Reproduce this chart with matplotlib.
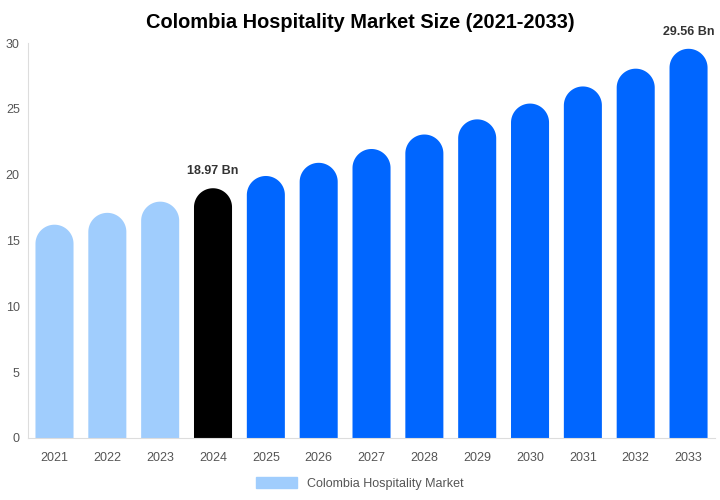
import numpy as np
import matplotlib
matplotlib.use('Agg')
import matplotlib.pyplot as plt
from matplotlib.patches import Patch

plt.rcParams['font.family'] = ['Liberation Sans', 'DejaVu Sans']

years = ['2021', '2022', '2023', '2024', '2025', '2026', '2027',
         '2028', '2029', '2030', '2031', '2032', '2033']
values = [16.2, 17.1, 17.95, 18.97, 19.9, 20.9, 21.95,
          23.05, 24.2, 25.4, 26.7, 28.05, 29.56]
labelled = {'2024': '18.97 Bn', '2033': '29.56 Bn'}

light = '#a0cdfd'
blue = '#0066ff'
colors = [light if int(y) < 2024 else ('#000000' if y == '2024' else blue) for y in years]

fig = plt.figure(figsize=(7.2, 5), dpi=100)
ax = fig.add_axes([0.039, 0.124, 0.954, 0.79])

x = np.arange(len(years))
width = 0.72
ax.set_xlim(-0.5, len(years) - 0.5)
ax.set_ylim(0, 30)

# cap height in data units so the top looks round in pixels
fig.canvas.draw()
px_per_x = ax.transData.transform((1, 0))[0] - ax.transData.transform((0, 0))[0]
px_per_y = ax.transData.transform((0, 1))[1] - ax.transData.transform((0, 0))[1]
cap_h = (width * px_per_x / 2) / px_per_y

# one outline per bar: straight sides, half-round top
t = np.linspace(0, np.pi, 60)
for xi, v, c in zip(x, values, colors):
    base = v - cap_h
    xs = np.concatenate([[xi + width / 2], xi + width / 2 * np.cos(t), [xi - width / 2]])
    ys = np.concatenate([[0], base + cap_h * np.sin(t), [0]])
    ax.fill(xs, ys, color=c, linewidth=0)

for xi, y, v in zip(x, years, values):
    if y in labelled:
        ax.annotate(labelled[y], (xi, v), xytext=(0, 8), textcoords='offset points',
                    ha='center', va='bottom', fontsize=9, fontweight='bold', color='#333333')

ax.set_xticks(x)
ax.set_xticklabels(years)
ax.set_yticks(range(0, 31, 5))
ax.tick_params(axis='both', length=0, labelsize=9, colors='#555555')
ax.tick_params(axis='x', pad=10)
ax.tick_params(axis='y', pad=6)
for s in ['top', 'right']:
    ax.spines[s].set_visible(False)
for s in ['left', 'bottom']:
    ax.spines[s].set_color('#dddddd')

fig.suptitle('Colombia Hospitality Market Size (2021-2033)', y=0.975,
             fontsize=14.4, fontweight='bold', color='#000000')

fig.legend(handles=[Patch(color=light, label='Colombia Hospitality Market')],
           loc='center', bbox_to_anchor=(0.5, 0.033), frameon=False,
           fontsize=9, handlelength=3.3, handleheight=1.0, labelcolor='#555555')

fig.savefig('out.png', dpi=100)
